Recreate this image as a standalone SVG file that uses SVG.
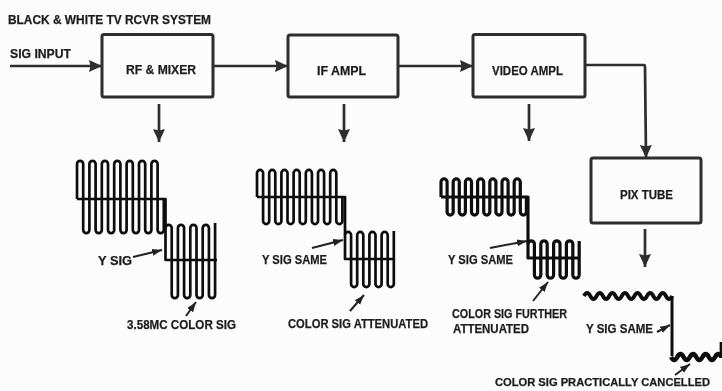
<svg xmlns="http://www.w3.org/2000/svg" width="722" height="391" viewBox="0 0 722 391">
<style>
.box{fill:none;stroke:#2e2e2e;stroke-width:3;stroke-linejoin:round}
.c{fill:none;stroke:#2e2e2e;stroke-width:2.7;stroke-linejoin:round}
.s{fill:none;stroke:#222;stroke-width:2}
.w{fill:none;stroke:#111;stroke-width:2.700;stroke-linejoin:round}
.t{font-family:"Liberation Sans",Arial,sans-serif;font-weight:700;font-size:13px;fill:#1c1c1c;stroke:#1c1c1c;stroke-width:.25}
</style>
<defs>
<marker id="ah" markerUnits="userSpaceOnUse" markerWidth="15" markerHeight="14" refX="13" refY="7" orient="auto"><path d="M0,1 L13,7 L0,13 L1.500,7 Z" fill="#2e2e2e"/></marker>
<marker id="sh" markerUnits="userSpaceOnUse" markerWidth="12" markerHeight="9" refX="10" refY="4.500" orient="auto"><path d="M0,1 L10,4.500 L0,8 Z" fill="#222"/></marker>
<filter id="soft" x="0" y="0" width="1" height="1"><feGaussianBlur stdDeviation="0.45"/></filter>
</defs>
<rect width="722" height="391" fill="#fcfcfc"/>
<g filter="url(#soft)">
<text class="t" x="8" y="24" textLength="203" lengthAdjust="spacingAndGlyphs">BLACK &amp; WHITE TV RCVR SYSTEM</text>
<text class="t" x="10" y="58" textLength="61" lengthAdjust="spacingAndGlyphs">SIG INPUT</text>

<g id="connectors">
<path class="c" d="M10,66 H102" marker-end="url(#ah)"/>
<path class="c" d="M214,66 H288" marker-end="url(#ah)"/>
<path class="c" d="M399,66 H473" marker-end="url(#ah)"/>
<path class="c" d="M586,65 H644 Q645,65 645,67 L646,158" marker-end="url(#ah)"/>
<path class="c" d="M159,104 V142" marker-end="url(#ah)"/>
<path class="c" d="M344,104 V142" marker-end="url(#ah)"/>
<path class="c" d="M529,104 V141" marker-end="url(#ah)"/>
<path class="c" d="M645,229 V267" marker-end="url(#ah)"/>
<path class="s" d="M133,257 L162,250" marker-end="url(#sh)"/>
<path class="s" d="M186,316 L196,302" marker-end="url(#sh)"/>
<path class="s" d="M312,248 L343,240" marker-end="url(#sh)"/>
<path class="s" d="M350,311 L364,295" marker-end="url(#sh)"/>
<path class="s" d="M490,248 L527,241" marker-end="url(#sh)"/>
<path class="s" d="M533,301 L548,282" marker-end="url(#sh)"/>
<path class="s" d="M657,332 L670,325" marker-end="url(#sh)"/>
<path class="s" d="M675,375 L690,364" marker-end="url(#sh)"/>
</g>

<g id="rf-mixer"><rect class="box" x="102" y="34.500" width="111" height="62.500" rx="2"/><text class="t" x="126" y="74" textLength="70" lengthAdjust="spacingAndGlyphs">RF &amp; MIXER</text></g>
<g id="if-ampl"><rect class="box" x="288" y="35" width="110" height="62" rx="2"/><text class="t" x="317" y="75" textLength="49" lengthAdjust="spacingAndGlyphs">IF AMPL</text></g>
<g id="video-ampl"><rect class="box" x="473" y="34.500" width="112" height="62.500" rx="2"/><text class="t" x="492" y="75" textLength="71" lengthAdjust="spacingAndGlyphs">VIDEO AMPL</text></g>
<g id="pix-tube"><rect class="box" x="591" y="158" width="110" height="65" rx="2"/><text class="t" x="620" y="199" textLength="53" lengthAdjust="spacingAndGlyphs">PIX TUBE</text></g>

<g id="wave-1">
<path class="w" d="M77,199 V164 a3.100,3.100 0 0 1 6.200,0 v66 a3.100,3.100 0 0 0 6.200,0 v-66 a3.100,3.100 0 0 1 6.200,0 v66 a3.100,3.100 0 0 0 6.200,0 v-66 a3.100,3.100 0 0 1 6.200,0 v66 a3.100,3.100 0 0 0 6.200,0 v-66 a3.100,3.100 0 0 1 6.200,0 v66 a3.100,3.100 0 0 0 6.200,0 v-66 a3.100,3.100 0 0 1 6.200,0 v66 a3.100,3.100 0 0 0 6.200,0 v-66 a3.100,3.100 0 0 1 6.200,0 v66 a3.100,3.100 0 0 0 6.200,0 v-66 a3.100,3.100 0 0 1 6.200,0 v66 a3.100,3.100 0 0 0 6.200,0 V199"/>
<path class="w" d="M77,199 H165.500 V260 H217"/>
<path class="w" d="M165.500,228 a3.100,3.100 0 0 1 6.200,0 v67 a3.100,3.100 0 0 0 6.200,0 v-67 a3.100,3.100 0 0 1 6.200,0 v67 a3.100,3.100 0 0 0 6.200,0 v-67 a3.100,3.100 0 0 1 6.200,0 v67 a3.100,3.100 0 0 0 6.200,0 v-67 a3.100,3.100 0 0 1 6.200,0 v67 a3.100,3.100 0 0 0 6.200,0 V223"/>
<text class="t" x="98" y="265" textLength="34" lengthAdjust="spacingAndGlyphs">Y SIG</text>
<text class="t" x="127" y="329" textLength="109" lengthAdjust="spacingAndGlyphs">3.58MC COLOR SIG</text>
</g>

<g id="wave-2">
<path class="w" d="M257,197 V173 a3.050,3.050 0 0 1 6.100,0 v48 a3.050,3.050 0 0 0 6.100,0 v-48 a3.050,3.050 0 0 1 6.100,0 v48 a3.050,3.050 0 0 0 6.100,0 v-48 a3.050,3.050 0 0 1 6.100,0 v48 a3.050,3.050 0 0 0 6.100,0 v-48 a3.050,3.050 0 0 1 6.100,0 v48 a3.050,3.050 0 0 0 6.100,0 v-48 a3.050,3.050 0 0 1 6.100,0 v48 a3.050,3.050 0 0 0 6.100,0 v-48 a3.050,3.050 0 0 1 6.100,0 v48 a3.050,3.050 0 0 0 6.100,0 v-48 a3.050,3.050 0 0 1 6.100,0 v48 a3.050,3.050 0 0 0 6.100,0 V197"/>
<path class="w" d="M257,197 H345 V259 H395"/>
<path class="w" d="M345,235 a3.050,3.050 0 0 1 6.100,0 v49 a3.050,3.050 0 0 0 6.100,0 v-49 a3.050,3.050 0 0 1 6.100,0 v49 a3.050,3.050 0 0 0 6.100,0 v-49 a3.050,3.050 0 0 1 6.100,0 v49 a3.050,3.050 0 0 0 6.100,0 v-49 a3.050,3.050 0 0 1 6.100,0 v49 a3.050,3.050 0 0 0 6.100,0 V231"/>
<text class="t" x="262" y="264" textLength="65" lengthAdjust="spacingAndGlyphs">Y SIG SAME</text>
<text class="t" x="288" y="328" textLength="140" lengthAdjust="spacingAndGlyphs">COLOR SIG ATTENUATED</text>
</g>

<g id="wave-3">
<path class="w" style="stroke-width:3.200" d="M441,197 V182 a3.050,3.050 0 0 1 6.100,0 v30 a3.050,3.050 0 0 0 6.100,0 v-30 a3.050,3.050 0 0 1 6.100,0 v30 a3.050,3.050 0 0 0 6.100,0 v-30 a3.050,3.050 0 0 1 6.100,0 v30 a3.050,3.050 0 0 0 6.100,0 v-30 a3.050,3.050 0 0 1 6.100,0 v30 a3.050,3.050 0 0 0 6.100,0 v-30 a3.050,3.050 0 0 1 6.100,0 v30 a3.050,3.050 0 0 0 6.100,0 v-30 a3.050,3.050 0 0 1 6.100,0 v30 a3.050,3.050 0 0 0 6.100,0 v-30 a3.050,3.050 0 0 1 6.100,0 v30 a3.050,3.050 0 0 0 6.100,0 V197"/>
<path class="w" style="stroke-width:3.200" d="M441,197 H528 V258 H580"/>
<path class="w" style="stroke-width:3.200" d="M528,244 a3.200,3.200 0 0 1 6.400,0 v31 a3.200,3.200 0 0 0 6.400,0 v-31 a3.200,3.200 0 0 1 6.400,0 v31 a3.200,3.200 0 0 0 6.400,0 v-31 a3.200,3.200 0 0 1 6.400,0 v31 a3.200,3.200 0 0 0 6.400,0 v-31 a3.200,3.200 0 0 1 6.400,0 v31 a3.200,3.200 0 0 0 6.400,0 V241"/>
<text class="t" x="448" y="264" textLength="65" lengthAdjust="spacingAndGlyphs">Y SIG SAME</text>
<text class="t" x="452" y="318" textLength="115" lengthAdjust="spacingAndGlyphs">COLOR SIG FURTHER</text>
<text class="t" x="453" y="333" textLength="76" lengthAdjust="spacingAndGlyphs">ATTENUATED</text>
</g>

<g id="wave-4">
<path class="w" style="stroke-width:3.800" d="M584,296 q3.150,-6 6.300,0 t6.300,0 t6.300,0 t6.300,0 t6.300,0 t6.300,0 t6.300,0 t6.300,0 t6.300,0 t6.300,0 t6.300,0 t6.300,0 t6.300,0 t6.300,0"/>
<path class="w" style="stroke-width:3" d="M672,296 V356"/>
<path class="w" style="stroke-width:4.500" d="M671,357 q3.150,6 6.300,0 t6.300,0 t6.300,0 t6.300,0 t6.300,0 t6.300,0 t6.300,0 t6.300,0"/>
<path class="w" d="M721,342 V358"/>
<text class="t" x="586" y="333" textLength="67" lengthAdjust="spacingAndGlyphs">Y SIG SAME</text>
<text class="t" style="font-size:11.500px" x="495" y="386" textLength="215" lengthAdjust="spacingAndGlyphs">COLOR SIG PRACTICALLY CANCELLED</text>
</g>
</g>
</svg>
